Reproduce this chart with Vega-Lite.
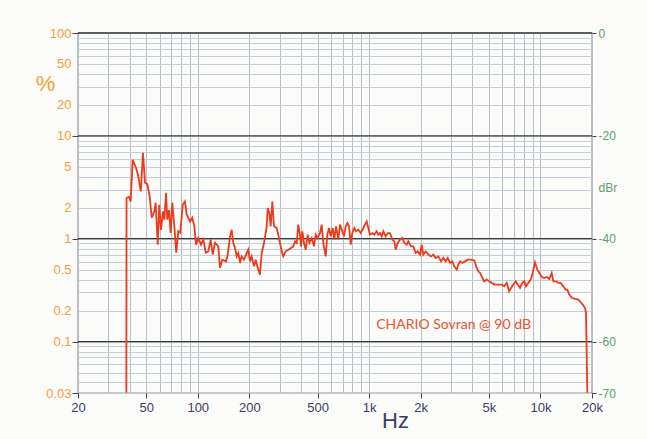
{
  "$schema": "https://vega.github.io/schema/vega-lite/v6.json",
  "autosize": {"type": "none"},
  "width": 514,
  "height": 360,
  "padding": {"left": 78, "top": 33, "right": 55, "bottom": 46},
  "background": "#fbfbfa",
  "config": {
    "view": {"stroke": "#333333", "strokeWidth": 1.2},
    "font": "Liberation Sans"
  },
  "datasets": {
    "thd": [
      {"hz": 38.3, "pct": 0.0317}, {"hz": 38.4, "pct": 2.48}, {"hz": 39.7, "pct": 2.56}, {"hz": 40.6, "pct": 2.30},
      {"hz": 41.7, "pct": 5.85}, {"hz": 43.6, "pct": 4.89}, {"hz": 45.0, "pct": 4.03}, {"hz": 46.5, "pct": 2.88},
      {"hz": 47.9, "pct": 6.84}, {"hz": 49.2, "pct": 3.50}, {"hz": 50.8, "pct": 3.40}, {"hz": 52.4, "pct": 2.57},
      {"hz": 53.9, "pct": 1.60}, {"hz": 55.8, "pct": 1.84}, {"hz": 56.8, "pct": 2.24}, {"hz": 58.4, "pct": 0.874},
      {"hz": 59.6, "pct": 2.14}, {"hz": 61.0, "pct": 1.22}, {"hz": 62.7, "pct": 1.84}, {"hz": 63.8, "pct": 1.53},
      {"hz": 65.3, "pct": 2.80}, {"hz": 66.4, "pct": 1.53}, {"hz": 67.9, "pct": 1.91}, {"hz": 69.5, "pct": 1.14},
      {"hz": 71.0, "pct": 2.24}, {"hz": 73.0, "pct": 1.32}, {"hz": 74.9, "pct": 0.731}, {"hz": 77.0, "pct": 1.18},
      {"hz": 79.1, "pct": 1.14}, {"hz": 81.7, "pct": 2.14}, {"hz": 84.2, "pct": 2.30}, {"hz": 86.2, "pct": 1.71},
      {"hz": 90.1, "pct": 1.47}, {"hz": 92.9, "pct": 1.60}, {"hz": 95.5, "pct": 1.32}, {"hz": 97.7, "pct": 0.874},
      {"hz": 100.7, "pct": 1.016}, {"hz": 104.5, "pct": 0.874}, {"hz": 107.8, "pct": 0.978}, {"hz": 111.3, "pct": 0.731},
      {"hz": 115.2, "pct": 0.753}, {"hz": 119.0, "pct": 0.978}, {"hz": 122.3, "pct": 0.700}, {"hz": 126.1, "pct": 0.915},
      {"hz": 131.8, "pct": 0.842}, {"hz": 134.8, "pct": 0.523}, {"hz": 139.1, "pct": 0.625}, {"hz": 146.2, "pct": 0.602},
      {"hz": 149.6, "pct": 0.700}, {"hz": 154.3, "pct": 1.053}, {"hz": 157.8, "pct": 1.22}, {"hz": 161.3, "pct": 0.908},
      {"hz": 165.0, "pct": 0.813}, {"hz": 168.8, "pct": 0.673}, {"hz": 172.5, "pct": 0.726}, {"hz": 176.5, "pct": 0.581},
      {"hz": 180.5, "pct": 0.673}, {"hz": 186.2, "pct": 0.625}, {"hz": 191.3, "pct": 0.700}, {"hz": 197.3, "pct": 0.782},
      {"hz": 201.8, "pct": 0.602}, {"hz": 206.4, "pct": 0.673}, {"hz": 213.0, "pct": 0.538}, {"hz": 217.9, "pct": 0.625},
      {"hz": 223.8, "pct": 0.520}, {"hz": 230.8, "pct": 0.447}, {"hz": 236.2, "pct": 0.726}, {"hz": 243.6, "pct": 0.908},
      {"hz": 252.6, "pct": 1.32}, {"hz": 256.0, "pct": 1.99}, {"hz": 261.6, "pct": 1.78}, {"hz": 266.5, "pct": 1.32},
      {"hz": 272.4, "pct": 2.30}, {"hz": 278.6, "pct": 1.32}, {"hz": 288.8, "pct": 1.27}, {"hz": 298.0, "pct": 1.016},
      {"hz": 309.0, "pct": 0.753}, {"hz": 315.7, "pct": 0.673}, {"hz": 326.2, "pct": 0.753}, {"hz": 337.8, "pct": 0.782},
      {"hz": 350.2, "pct": 0.813}, {"hz": 361.2, "pct": 0.842}, {"hz": 369.6, "pct": 0.942}, {"hz": 378.1, "pct": 0.908},
      {"hz": 386.2, "pct": 1.37}, {"hz": 395.1, "pct": 1.094}, {"hz": 400.5, "pct": 0.842}, {"hz": 407.6, "pct": 1.18},
      {"hz": 417.1, "pct": 0.908}, {"hz": 426.6, "pct": 0.782}, {"hz": 438.2, "pct": 1.094}, {"hz": 447.8, "pct": 0.908},
      {"hz": 462.5, "pct": 1.016}, {"hz": 477.0, "pct": 0.842}, {"hz": 488.0, "pct": 1.094}, {"hz": 501.2, "pct": 1.016},
      {"hz": 517.0, "pct": 1.135}, {"hz": 529.0, "pct": 1.37}, {"hz": 540.4, "pct": 0.908}, {"hz": 558.2, "pct": 0.673},
      {"hz": 570.4, "pct": 1.094}, {"hz": 583.5, "pct": 1.27}, {"hz": 596.9, "pct": 1.053}, {"hz": 613.3, "pct": 1.27},
      {"hz": 626.6, "pct": 0.978}, {"hz": 641.2, "pct": 1.32}, {"hz": 661.4, "pct": 0.978}, {"hz": 676.7, "pct": 1.37},
      {"hz": 697.8, "pct": 1.18}, {"hz": 714.0, "pct": 1.053}, {"hz": 730.5, "pct": 1.32}, {"hz": 746.4, "pct": 1.42},
      {"hz": 763.6, "pct": 1.32}, {"hz": 781.4, "pct": 0.874}, {"hz": 798.1, "pct": 1.135}, {"hz": 820.0, "pct": 1.27},
      {"hz": 838.9, "pct": 1.18}, {"hz": 865.1, "pct": 1.22}, {"hz": 893.3, "pct": 1.135}, {"hz": 925.3, "pct": 1.27},
      {"hz": 946.6, "pct": 1.37}, {"hz": 968.4, "pct": 1.47}, {"hz": 989.7, "pct": 1.27}, {"hz": 1012, "pct": 1.094},
      {"hz": 1044, "pct": 1.135}, {"hz": 1073, "pct": 1.094}, {"hz": 1108, "pct": 1.18}, {"hz": 1132, "pct": 1.094},
      {"hz": 1158, "pct": 1.135}, {"hz": 1185, "pct": 1.053}, {"hz": 1211, "pct": 1.18}, {"hz": 1250, "pct": 1.053},
      {"hz": 1284, "pct": 1.135}, {"hz": 1324, "pct": 1.135}, {"hz": 1367, "pct": 0.978}, {"hz": 1404, "pct": 0.942},
      {"hz": 1430, "pct": 0.782}, {"hz": 1469, "pct": 0.908}, {"hz": 1515, "pct": 0.978}, {"hz": 1563, "pct": 1.016},
      {"hz": 1605, "pct": 0.908}, {"hz": 1658, "pct": 0.874}, {"hz": 1694, "pct": 0.942}, {"hz": 1756, "pct": 0.842},
      {"hz": 1811, "pct": 0.842}, {"hz": 1871, "pct": 0.726}, {"hz": 1922, "pct": 0.753}, {"hz": 1982, "pct": 0.700},
      {"hz": 2028, "pct": 0.874}, {"hz": 2072, "pct": 0.700}, {"hz": 2140, "pct": 0.753}, {"hz": 2216, "pct": 0.700},
      {"hz": 2298, "pct": 0.673}, {"hz": 2370, "pct": 0.700}, {"hz": 2448, "pct": 0.650}, {"hz": 2536, "pct": 0.673},
      {"hz": 2630, "pct": 0.602}, {"hz": 2712, "pct": 0.650}, {"hz": 2800, "pct": 0.602}, {"hz": 2876, "pct": 0.650},
      {"hz": 2968, "pct": 0.581}, {"hz": 3061, "pct": 0.602}, {"hz": 3144, "pct": 0.538}, {"hz": 3246, "pct": 0.500},
      {"hz": 3317, "pct": 0.559}, {"hz": 3394, "pct": 0.602}, {"hz": 3500, "pct": 0.581}, {"hz": 3630, "pct": 0.602},
      {"hz": 3764, "pct": 0.625}, {"hz": 3934, "pct": 0.625}, {"hz": 4112, "pct": 0.615}, {"hz": 4248, "pct": 0.520},
      {"hz": 4341, "pct": 0.482}, {"hz": 4440, "pct": 0.465}, {"hz": 4544, "pct": 0.431}, {"hz": 4686, "pct": 0.385},
      {"hz": 4858, "pct": 0.400}, {"hz": 5012, "pct": 0.385}, {"hz": 5196, "pct": 0.372}, {"hz": 5382, "pct": 0.358},
      {"hz": 5556, "pct": 0.358}, {"hz": 5730, "pct": 0.358}, {"hz": 5944, "pct": 0.358}, {"hz": 6156, "pct": 0.344},
      {"hz": 6358, "pct": 0.372}, {"hz": 6558, "pct": 0.308}, {"hz": 6736, "pct": 0.332}, {"hz": 6948, "pct": 0.358},
      {"hz": 7174, "pct": 0.385}, {"hz": 7370, "pct": 0.358}, {"hz": 7600, "pct": 0.332}, {"hz": 7840, "pct": 0.372},
      {"hz": 8054, "pct": 0.385}, {"hz": 8240, "pct": 0.344}, {"hz": 8498, "pct": 0.372}, {"hz": 8776, "pct": 0.400},
      {"hz": 9016, "pct": 0.465}, {"hz": 9298, "pct": 0.589}, {"hz": 9590, "pct": 0.500}, {"hz": 9852, "pct": 0.465},
      {"hz": 10174, "pct": 0.425}, {"hz": 10494, "pct": 0.415}, {"hz": 10878, "pct": 0.425}, {"hz": 11266, "pct": 0.406},
      {"hz": 11636, "pct": 0.465}, {"hz": 11888, "pct": 0.385}, {"hz": 12328, "pct": 0.385}, {"hz": 12716, "pct": 0.372},
      {"hz": 13132, "pct": 0.372}, {"hz": 13600, "pct": 0.344}, {"hz": 14046, "pct": 0.320}, {"hz": 14352, "pct": 0.320},
      {"hz": 14742, "pct": 0.286}, {"hz": 15224, "pct": 0.266}, {"hz": 15916, "pct": 0.260}, {"hz": 16636, "pct": 0.256},
      {"hz": 17180, "pct": 0.241}, {"hz": 17650, "pct": 0.229}, {"hz": 18206, "pct": 0.212}, {"hz": 18452, "pct": 0.190},
      {"hz": 18778, "pct": 0.0317}
    ],
    "major": [{"db": 0}, {"db": -20}, {"db": -40}, {"db": -60}],
    "note": [{"hz": 1100, "pct": 0.146, "text": "CHARIO Sovran @ 90 dB"}]
  },
  "layer": [
    {
      "data": {"name": "major"},
      "mark": {"type": "rule", "color": "#3a3a3a", "strokeWidth": 1.3},
      "encoding": {
        "y": {
          "field": "db",
          "type": "quantitative",
          "scale": {"domain": [-70, 0], "nice": false, "zero": false},
          "axis": {
            "orient": "right",
            "values": [0, -20, -30, -40, -60, -70],
            "labelExpr": "datum.value == -30 ? 'dBr' : '' + datum.value",
            "labelColor": "#5f9e70",
            "labelFontSize": 12,
            "labelFont": "Liberation Sans",
            "tickColor": {"condition": {"test": "datum.value == -30", "value": "transparent"}, "value": "#444444"},
            "tickSize": 4,
            "labelPadding": 2,
            "grid": false,
            "domain": false,
            "title": null
          }
        }
      }
    },
    {
      "layer": [
        {
          "data": {"name": "thd"},
          "mark": {"type": "line", "color": "#ec3a1c", "strokeWidth": 1.8, "clip": true},
          "encoding": {
            "x": {
              "field": "hz",
              "type": "quantitative",
              "scale": {"type": "log", "domain": [20, 20000], "nice": false},
              "axis": {
                "values": [20, 30, 40, 50, 60, 70, 80, 90, 100, 200, 300, 400, 500, 600, 700, 800, 900, 1000, 2000, 3000, 4000, 5000, 6000, 7000, 8000, 9000, 10000, 20000],
                "format": "~s",
                "labelExpr": "indexof([20, 50, 100, 200, 500, 1000, 2000, 5000, 10000, 20000], datum.value) >= 0 ? datum.label : ''",
                "labelFontSize": 13,
                "labelColor": "#3d3d5c",
                "labelFont": "Liberation Sans",
                "labelPadding": 3,
                "labelFlush": false,
                "labelOverlap": false,
                "tickSize": 5,
                "tickColor": {"condition": {"test": "indexof([20, 50, 100, 200, 500, 1000, 2000, 5000, 10000, 20000], datum.value) >= 0", "value": "#444444"}, "value": "transparent"},
                "grid": true,
                "gridColor": "#b7bec7",
                "gridWidth": 1,
                "domain": false,
                "title": "Hz",
                "titleFontSize": 22,
                "titleFontWeight": "normal",
                "titleFont": "Liberation Sans",
                "titleColor": "#3d3d5c",
                "titleAlign": "center",
                "titleBaseline": "alphabetic",
                "titleX": 317,
                "titleY": 34
              }
            },
            "y": {
              "field": "pct",
              "type": "quantitative",
              "scale": {"type": "log", "domain": [0.0316, 100], "nice": false},
              "axis": {
                "orient": "left",
                "values": [0.0316, 0.04, 0.05, 0.06, 0.07, 0.08, 0.09, 0.1, 0.2, 0.3, 0.4, 0.5, 0.6, 0.7, 0.8, 0.9, 1, 2, 3, 4, 5, 6, 7, 8, 9, 10, 20, 30, 40, 50, 60, 70, 80, 90, 100],
                "format": "~g",
                "labelExpr": "datum.value < 0.035 ? '0.03' : (indexof([0.1, 0.2, 0.5, 1, 2, 5, 10, 20, 50, 100], datum.value) >= 0 ? datum.label : '')",
                "labelColor": "#f2a036",
                "labelFontSize": 13,
                "labelFont": "Liberation Sans",
                "labelPadding": 1,
                "labelOverlap": false,
                "labelFlush": false,
                "tickSize": 6,
                "tickColor": {"condition": {"test": "datum.value < 0.035 || indexof([0.1, 1, 10, 100], datum.value) >= 0", "value": "#444444"}, "value": "transparent"},
                "grid": true,
                "gridColor": "#c3ced8",
                "gridWidth": 1,
                "domain": false,
                "title": "%",
                "titleAngle": 0,
                "titleFontSize": 22,
                "titleFontWeight": "normal",
                "titleFont": "Liberation Sans",
                "titleColor": "#f2a036",
                "titleAlign": "center",
                "titleBaseline": "alphabetic",
                "titleX": -33,
                "titleY": 57
              }
            }
          }
        },
        {
          "data": {"name": "note"},
          "mark": {"type": "text", "align": "left", "baseline": "middle", "font": "Lato", "fontSize": 14, "color": "#e8542e"},
          "encoding": {
            "x": {"field": "hz", "type": "quantitative"},
            "y": {"field": "pct", "type": "quantitative"},
            "text": {"field": "text"}
          }
        }
      ]
    }
  ],
  "resolve": {"scale": {"y": "independent"}, "axis": {"y": "independent"}}
}
